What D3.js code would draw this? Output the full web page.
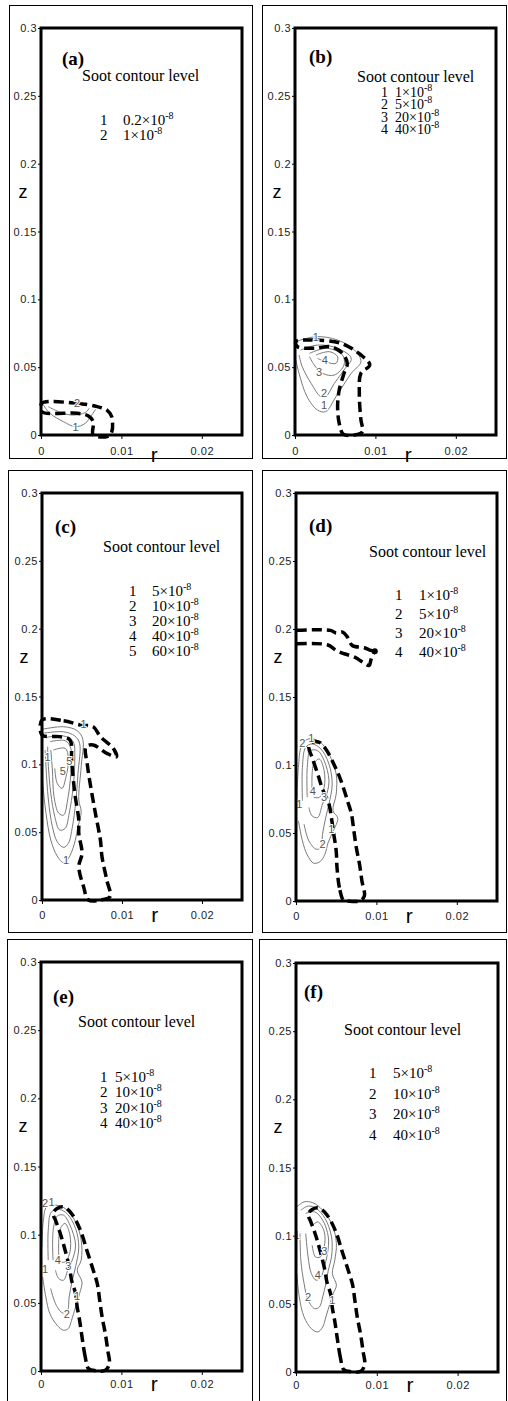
<!DOCTYPE html>
<html>
<head>
<meta charset="utf-8">
<script src="https://cdn.jsdelivr.net/npm/d3@7"></script>
<style>
  body { margin: 0; background: #fff; }
  svg { display: block; }
</style>
</head>
<body>
<div id="chart"></div>
<script>
// ---- axis ticks ----
const rTicks = [0, 0.01, 0.02];
const rTickLabels = ['0', '0.01', '0.02'];
const zTicks = [0, 0.05, 0.1, 0.15, 0.2, 0.25, 0.3];
const zTickLabels = ['0', '0.05', '0.1', '0.15', '0.2', '0.25', '0.3'];

// ---- legend levels (x10^-8) ----
const levelsA = ['0.2', '1'];
const levelsB = ['1', '5', '20', '40'];
const levelsC = ['5', '10', '20', '40', '60'];
const levelsD = ['1', '5', '20', '40'];
const levelsE = ['5', '10', '20', '40'];
const levelsF = ['5', '10', '20', '40'];

// ---- flame boundary (dashed), [r, z] ----
const flameA = [[0.0001,0.0233],[0.0045,0.0233],[0.0070,0.0209],[0.0082,0.0184],[0.0088,0.0135],[0.0086,0],
  [0.0065,0],[0.0065,0.0098],[0.0059,0.0140],[0.0045,0.0160],[0.0001,0.0172]];
const flameB = [[0.0001,0.0688],[0.0024,0.0700],[0.0057,0.0676],[0.0082,0.0590],[0.0093,0.0516],[0.0082,0.0455],
  [0.0080,0.0307],[0.0082,0.0111],[0.0084,0.0025],[0.0074,0],[0.0060,0.0007],[0.0055,0.0086],[0.0053,0.0209],
  [0.0055,0.0332],[0.0061,0.0455],[0.0065,0.0528],[0.0059,0.0602],[0.0045,0.0651],[0.0024,0.0639],[0.0003,0.0651]];
const flameC = [[0.0000,0.1326],[0.0027,0.1321],[0.0048,0.1290],[0.0064,0.1277],[0.0073,0.1204],[0.0089,0.1118],
  [0.0093,0.1056],[0.0081,0.1081],[0.0064,0.1142],[0.0055,0.1130],[0.0057,0.0983],[0.0066,0.0663],[0.0073,0.0442],
  [0.0075,0.0319],[0.0081,0.0147],[0.0085,0.0025],[0.0073,0],[0.0058,0],[0.0052,0.0098],[0.0046,0.0246],
  [0.0050,0.0344],[0.0046,0.0491],[0.0046,0.0590],[0.0041,0.0786],[0.0037,0.1032],[0.0035,0.1179],
  [0.0022,0.1204],[0.0000,0.1216]];
const flameD = [[0.0059,0.0005],[0.0054,0.0098],[0.0051,0.0246],[0.0050,0.0368],[0.0047,0.0491],[0.0044,0.0614],
  [0.0041,0.0713],[0.0033,0.0823],[0.0027,0.0934],[0.0020,0.1056],[0.0016,0.1130],[0.0020,0.1167],[0.0029,0.1167],
  [0.0037,0.1118],[0.0048,0.0995],[0.0056,0.0884],[0.0064,0.0737],[0.0069,0.0639],[0.0072,0.0516],[0.0075,0.0393],
  [0.0079,0.0270],[0.0082,0.0147],[0.0085,0.0037],[0.0079,0],[0.0064,0]];
const flameEF = [[0.0059,0.0018],[0.0055,0.0103],[0.0051,0.0250],[0.0048,0.0372],[0.0045,0.0470],[0.0043,0.0568],
  [0.0038,0.0666],[0.0036,0.0739],[0.0030,0.0886],[0.0024,0.1009],[0.0018,0.1106],[0.0015,0.1155],[0.0020,0.1192],
  [0.0028,0.1204],[0.0038,0.1155],[0.0049,0.1033],[0.0057,0.0886],[0.0065,0.0739],[0.0070,0.0641],[0.0073,0.0519],
  [0.0076,0.0396],[0.0080,0.0274],[0.0083,0.0152],[0.0085,0.0054],[0.0080,0.0005],[0.0065,0.0005]];
// upper lifted flame in (d), open lines
const liftUpperD = [[0.0001,0.1990],[0.0043,0.1990],[0.0050,0.1970],[0.0058,0.1977],[0.0064,0.1940],[0.0070,0.1879],
  [0.0085,0.1862],[0.0091,0.1847],[0.0097,0.1837]];
const liftLowerD = [[0.0001,0.1891],[0.0039,0.1884],[0.0050,0.1842],[0.0060,0.1818],[0.0073,0.1793],[0.0083,0.1756],
  [0.0091,0.1732],[0.0093,0.1769],[0.0095,0.1805],[0.0098,0.1837]];

// ---- soot contours (thin grey), [r, z] ----
const sootA = [
  [[0.0003,0.0221],[0.0011,0.0160],[0.0028,0.0098],[0.0043,0.0061],[0.0055,0.0086],[0.0063,0.0147],[0.0068,0.0189]],
  [[0.0009,0.0209],[0.0022,0.0172],[0.0038,0.0147],[0.0055,0.0165],[0.0060,0.0197]]
];
const sootB = [
  [[0.0001,0.0688],[0.0026,0.0725],[0.0053,0.0700],[0.0074,0.0626],[0.0082,0.0540],[0.0070,0.0455],[0.0051,0.0282],
   [0.0038,0.0172],[0.0028,0.0184],[0.0015,0.0282],[0.0005,0.0455],[0.0001,0.0553]],
  [[0.0007,0.0626],[0.0028,0.0663],[0.0053,0.0639],[0.0070,0.0565],[0.0061,0.0479],[0.0049,0.0381],[0.0038,0.0282],
   [0.0032,0.0282],[0.0020,0.0381],[0.0009,0.0503],[0.0005,0.0590]],
  [[0.0018,0.0602],[0.0040,0.0639],[0.0059,0.0590],[0.0061,0.0516],[0.0049,0.0442],[0.0034,0.0455],[0.0024,0.0516],
   [0.0018,0.0577]],
  [[0.0026,0.0590],[0.0043,0.0614],[0.0053,0.0577],[0.0051,0.0528],[0.0038,0.0540],[0.0028,0.0565]]
];
const sootC = [
  [[0.0000,0.1258],[0.0027,0.1277],[0.0044,0.1248],[0.0051,0.1184],[0.0049,0.0983],[0.0046,0.0737],[0.0049,0.0651],
   [0.0045,0.0540],[0.0040,0.0405],[0.0033,0.0307],[0.0027,0.0275],[0.0019,0.0324],[0.0011,0.0442],[0.0005,0.0639],
   [0.0001,0.0860],[0.0000,0.0983]],
  [[0.0000,0.1228],[0.0027,0.1240],[0.0041,0.1209],[0.0047,0.1155],[0.0045,0.0934],[0.0042,0.0713],[0.0038,0.0540],
   [0.0033,0.0418],[0.0027,0.0388],[0.0019,0.0430],[0.0013,0.0540],[0.0008,0.0737],[0.0005,0.0983],[0.0004,0.1105]],
  [[0.0006,0.1199],[0.0027,0.1209],[0.0039,0.1167],[0.0041,0.1056],[0.0039,0.0835],[0.0034,0.0639],[0.0029,0.0528],
   [0.0022,0.0516],[0.0016,0.0614],[0.0011,0.0786],[0.0008,0.0983],[0.0007,0.1130]],
  [[0.0010,0.1167],[0.0029,0.1174],[0.0036,0.1118],[0.0036,0.0934],[0.0032,0.0737],[0.0027,0.0626],[0.0021,0.0639],
   [0.0015,0.0762],[0.0013,0.0958],[0.0011,0.1105]],
  [[0.0014,0.1105],[0.0029,0.1118],[0.0033,0.1044],[0.0030,0.0909],[0.0025,0.0823],[0.0019,0.0860],[0.0016,0.0970]]
];
const sootD = [
  [[0.0001,0.0737],[0.0003,0.0983],[0.0007,0.1142],[0.0015,0.1191],[0.0029,0.1174],[0.0041,0.1081],[0.0050,0.0934],
   [0.0050,0.0786],[0.0046,0.0663],[0.0052,0.0609],[0.0046,0.0511],[0.0040,0.0430],[0.0036,0.0344],[0.0030,0.0290],
   [0.0022,0.0278],[0.0014,0.0339],[0.0008,0.0442],[0.0003,0.0590]],
  [[0.0008,0.0737],[0.0008,0.0983],[0.0012,0.1130],[0.0020,0.1155],[0.0031,0.1118],[0.0041,0.1007],[0.0045,0.0860],
   [0.0041,0.0713],[0.0037,0.0614],[0.0033,0.0491],[0.0031,0.0393],[0.0025,0.0381],[0.0016,0.0442],[0.0010,0.0565]],
  [[0.0014,0.0762],[0.0014,0.0983],[0.0018,0.1105],[0.0027,0.1105],[0.0035,0.1032],[0.0041,0.0884],[0.0037,0.0762],
   [0.0033,0.0713],[0.0027,0.0614],[0.0020,0.0626],[0.0016,0.0688]],
  [[0.0020,0.0811],[0.0022,0.1007],[0.0029,0.1044],[0.0035,0.0958],[0.0035,0.0835],[0.0029,0.0762],[0.0022,0.0762]]
];
const sootE = [
  [[0.0001,0.0910],[0.0003,0.1106],[0.0007,0.1204],[0.0018,0.1217],[0.0030,0.1192],[0.0043,0.1094],[0.0050,0.0960],
   [0.0050,0.0813],[0.0045,0.0739],[0.0051,0.0653],[0.0048,0.0568],[0.0043,0.0470],[0.0038,0.0372],[0.0034,0.0311],
   [0.0028,0.0299],[0.0020,0.0336],[0.0011,0.0421],[0.0006,0.0543],[0.0002,0.0690]],
  [[0.0009,0.0813],[0.0009,0.1033],[0.0013,0.1167],[0.0023,0.1185],[0.0033,0.1150],[0.0043,0.1045],[0.0047,0.0910],
   [0.0043,0.0764],[0.0039,0.0666],[0.0035,0.0543],[0.0033,0.0446],[0.0027,0.0426],[0.0019,0.0482],[0.0012,0.0605]],
  [[0.0015,0.0813],[0.0015,0.1021],[0.0020,0.1136],[0.0028,0.1143],[0.0036,0.1070],[0.0043,0.0923],[0.0038,0.0800],
   [0.0034,0.0752],[0.0028,0.0666],[0.0022,0.0678],[0.0018,0.0739]],
  [[0.0022,0.0849],[0.0024,0.1045],[0.0030,0.1082],[0.0036,0.0996],[0.0036,0.0874],[0.0030,0.0800],[0.0024,0.0800]]
];
const sootF = [
  [[0.0001,0.1211],[0.0010,0.1248],[0.0021,0.1241],[0.0033,0.1187],[0.0045,0.1077],[0.0050,0.0943],[0.0048,0.0820],
   [0.0045,0.0722],[0.0050,0.0637],[0.0046,0.0575],[0.0042,0.0502],[0.0037,0.0404],[0.0033,0.0330],[0.0027,0.0294],
   [0.0019,0.0318],[0.0010,0.0404],[0.0004,0.0551],[0.0001,0.0722]],
  [[0.0006,0.1187],[0.0015,0.1217],[0.0025,0.1200],[0.0036,0.1126],[0.0044,0.0991],[0.0044,0.0844],[0.0040,0.0747],
   [0.0037,0.0649],[0.0033,0.0551],[0.0029,0.0477],[0.0023,0.0465],[0.0015,0.0526],[0.0010,0.0649],[0.0006,0.0820],
   [0.0005,0.1016]],
  [[0.0012,0.1163],[0.0023,0.1175],[0.0033,0.1114],[0.0040,0.0991],[0.0039,0.0869],[0.0035,0.0771],[0.0031,0.0698],
   [0.0025,0.0673],[0.0019,0.0722],[0.0015,0.0844],[0.0012,0.1016]],
  [[0.0019,0.1065],[0.0027,0.1101],[0.0035,0.1028],[0.0035,0.0918],[0.0030,0.0844],[0.0024,0.0844],[0.0020,0.0930]]
];

// ---- contour labels: [text, r, z] ----
const labelsA = [['1',0.0043,0.0061],['2',0.0045,0.0235]];
const labelsB = [['1',0.0026,0.0725],['1',0.0036,0.0221],['2',0.0036,0.0307],['3',0.0030,0.0467],['4',0.0037,0.0553]];
const labelsC = [['1',0.0052,0.1297],['5',0.0026,0.0953],['5',0.0034,0.1027],['1',0.0007,0.1056],['1',0.0030,0.0295]];
const labelsD = [['2',0.0008,0.1160],['1',0.0019,0.1195],['4',0.0021,0.0810],['3',0.0035,0.0762],['1',0.0004,0.0715],
  ['2',0.0033,0.0418],['1',0.0044,0.0528]];
const labelsE = [['2',0.0005,0.1229],['1',0.0013,0.1241],['1',0.0005,0.0751],['4',0.0021,0.0813],['3',0.0034,0.0769],
  ['1',0.0045,0.0548],['2',0.0032,0.0421]];
const labelsF = [['1',0.0001,0.1004],['3',0.0035,0.0888],['4',0.0027,0.0710],['2',0.0015,0.0551],['1',0.0045,0.0526]];

// ---- layout (pixels) ----
const W = 508, H = 1401;
const cells = [
  { x: 9, y: 5, w: 243, h: 453 }, { x: 262, y: 5, w: 244, h: 453 },
  { x: 8, y: 470, w: 244, h: 462 }, { x: 262, y: 470, w: 244, h: 462 },
  { x: 7, y: 939, w: 245, h: 470 }, { x: 259, y: 939, w: 247, h: 470 }
];
const panels = [
  { tag: '(a)', x0: 41, y0: 435, w: 201, h: 407, levels: levelsA, flame: [flameA], soot: sootA, labels: labelsA,
    tagPos: [62, 65], titlePos: [82, 81], numX: 100, valX: 123, rowY: 125, rowDy: 15, fs: 15, tickDy: 20, rDy: 27 },
  { tag: '(b)', x0: 295, y0: 435, w: 201, h: 407, levels: levelsB, flame: [flameB], soot: sootB, labels: labelsB,
    tagPos: [309, 63], titlePos: [357, 82], numX: 381, valX: 395, rowY: 97, rowDy: 12.4, fs: 14, tickDy: 20, rDy: 27 },
  { tag: '(c)', x0: 42, y0: 900, w: 200, h: 407, levels: levelsC, flame: [flameC], soot: sootC, labels: labelsC,
    tagPos: [55, 533], titlePos: [103, 552], numX: 129, valX: 152, rowY: 596, rowDy: 15, fs: 15, tickDy: 18.5, rDy: 22 },
  { tag: '(d)', x0: 296, y0: 901, w: 201, h: 408, levels: levelsD, flame: [flameD], soot: sootD, labels: labelsD,
    tagPos: [309, 532], titlePos: [369, 557], numX: 395, valX: 419, rowY: 600, rowDy: 19, fs: 15, tickDy: 18.5, rDy: 22 },
  { tag: '(e)', x0: 41, y0: 1371, w: 201, h: 409, levels: levelsE, flame: [flameEF], soot: sootE, labels: labelsE,
    tagPos: [53, 1003], titlePos: [78, 1027], numX: 100, valX: 115, rowY: 1082, rowDy: 15.3, fs: 15, tickDy: 16.5, rDy: 20 },
  { tag: '(f)', x0: 296, y0: 1372, w: 202, h: 409, levels: levelsF, flame: [flameEF], soot: sootF, labels: labelsF,
    tagPos: [304, 998], titlePos: [344, 1035], numX: 369, valX: 393, rowY: 1078, rowDy: 20.5, fs: 15, tickDy: 16.5, rDy: 20 }
];
panels[3].open = [liftUpperD, liftLowerD];

const svg = d3.select('#chart').append('svg')
  .attr('width', W).attr('height', H)
  .attr('viewBox', `0 0 ${W} ${H}`);

// table cell frames
svg.selectAll('rect.cell')
  .data(cells)
  .join('rect')
  .attr('class', 'cell')
  .attr('x', d => d.x + 0.5).attr('y', d => d.y + 0.5)
  .attr('width', d => d.w).attr('height', d => d.h)
  .attr('fill', 'none').attr('stroke', '#000').attr('stroke-width', 1);

const sansNarrow = "'Liberation Sans Narrow', 'Liberation Sans', Arial, sans-serif";
const sans = "'Liberation Sans', Arial, sans-serif";
const serif = "'Liberation Serif', 'Times New Roman', serif";

panels.forEach(p => {
  const x = d3.scaleLinear().domain([0, 0.025]).range([p.x0, p.x0 + p.w]);
  const y = d3.scaleLinear().domain([0, 0.3]).range([p.y0, p.y0 - p.h]);
  const g = svg.append('g');

  // y axis ticks + labels
  const yAxis = d3.axisLeft(y).tickValues(zTicks).tickSize(3).tickPadding(1)
    .tickFormat((d, i) => zTickLabels[i]);
  const ya = g.append('g').attr('transform', `translate(${p.x0},0)`).call(yAxis);
  ya.select('.domain').remove();
  ya.selectAll('text').attr('font-family', sans).attr('font-size', 11)
    .attr('letter-spacing', 0.5).attr('fill', '#222');

  // x axis ticks + labels
  const xAxis = d3.axisBottom(x).tickValues(rTicks).tickSize(4).tickPadding(1)
    .tickFormat((d, i) => rTickLabels[i]);
  const xa = g.append('g').attr('transform', `translate(0,${p.y0})`).call(xAxis);
  xa.select('.domain').remove();
  xa.selectAll('text').attr('font-family', sans).attr('font-size', 11)
    .attr('letter-spacing', 0.5).attr('fill', '#222')
    .attr('dy', null).attr('y', p.tickDy);

  // axis titles
  g.append('text').attr('x', p.x0 - 18).attr('y', y(0.175))
    .attr('text-anchor', 'middle').attr('font-family', sansNarrow).attr('font-size', 18).text('z');
  g.append('text').attr('x', x(0.0141)).attr('y', p.y0 + p.rDy)
    .attr('text-anchor', 'middle').attr('font-family', sansNarrow).attr('font-size', 21).text('r');

  // soot contours
  const curve = d3.line().x(d => x(d[0])).y(d => y(d[1])).curve(d3.curveCatmullRom.alpha(0.5));
  g.append('g').selectAll('path')
    .data(p.soot)
    .join('path')
    .attr('d', curve)
    .attr('fill', 'none').attr('stroke', '#7a7a7a').attr('stroke-width', 1);

  // flame boundary, dashed
  const closed = d3.line().x(d => x(d[0])).y(d => y(d[1])).curve(d3.curveCatmullRomClosed.alpha(0.5));
  g.append('g').selectAll('path')
    .data(p.flame)
    .join('path')
    .attr('d', closed)
    .attr('fill', 'none').attr('stroke', '#000').attr('stroke-width', 3.5)
    .attr('stroke-dasharray', '10,5');
  if (p.open) {
    g.append('g').selectAll('path')
      .data(p.open)
      .join('path')
      .attr('d', curve)
      .attr('fill', 'none').attr('stroke', '#000').attr('stroke-width', 3.5)
      .attr('stroke-dasharray', '10,5');
    const end = p.open[1][p.open[1].length - 1];
    g.append('circle').attr('cx', x(end[0])).attr('cy', y(end[1])).attr('r', 3).attr('fill', '#000');
  }

  // contour labels
  g.append('g').selectAll('text')
    .data(p.labels)
    .join('text')
    .attr('x', d => x(d[1])).attr('y', d => y(d[2]) + 4)
    .attr('text-anchor', 'middle')
    .attr('font-family', sans).attr('font-size', 11)
    .attr('fill', '#555').attr('stroke', '#fff').attr('stroke-width', 2)
    .attr('paint-order', 'stroke')
    .text(d => d[0]);

  // plot frame
  g.append('rect')
    .attr('x', p.x0).attr('y', p.y0 - p.h)
    .attr('width', p.w).attr('height', p.h)
    .attr('fill', 'none').attr('stroke', '#000').attr('stroke-width', 3);

  // panel tag and legend
  g.append('text').attr('x', p.tagPos[0]).attr('y', p.tagPos[1])
    .attr('font-family', serif).attr('font-weight', 'bold').attr('font-size', 19).text(p.tag);
  g.append('text').attr('x', p.titlePos[0]).attr('y', p.titlePos[1])
    .attr('font-family', serif).attr('font-size', 16).text('Soot contour level');

  const rows = g.append('g').selectAll('text')
    .data(p.levels)
    .join('text')
    .attr('y', (d, i) => p.rowY + i * p.rowDy)
    .attr('font-family', serif).attr('font-size', p.fs);
  rows.append('tspan').attr('x', p.numX).text((d, i) => i + 1);
  rows.append('tspan').attr('x', p.valX).text(d => d + '\u00d710');
  rows.append('tspan').attr('dy', -6).attr('font-size', 10).text('-8');
});
</script>
</body>
</html>
